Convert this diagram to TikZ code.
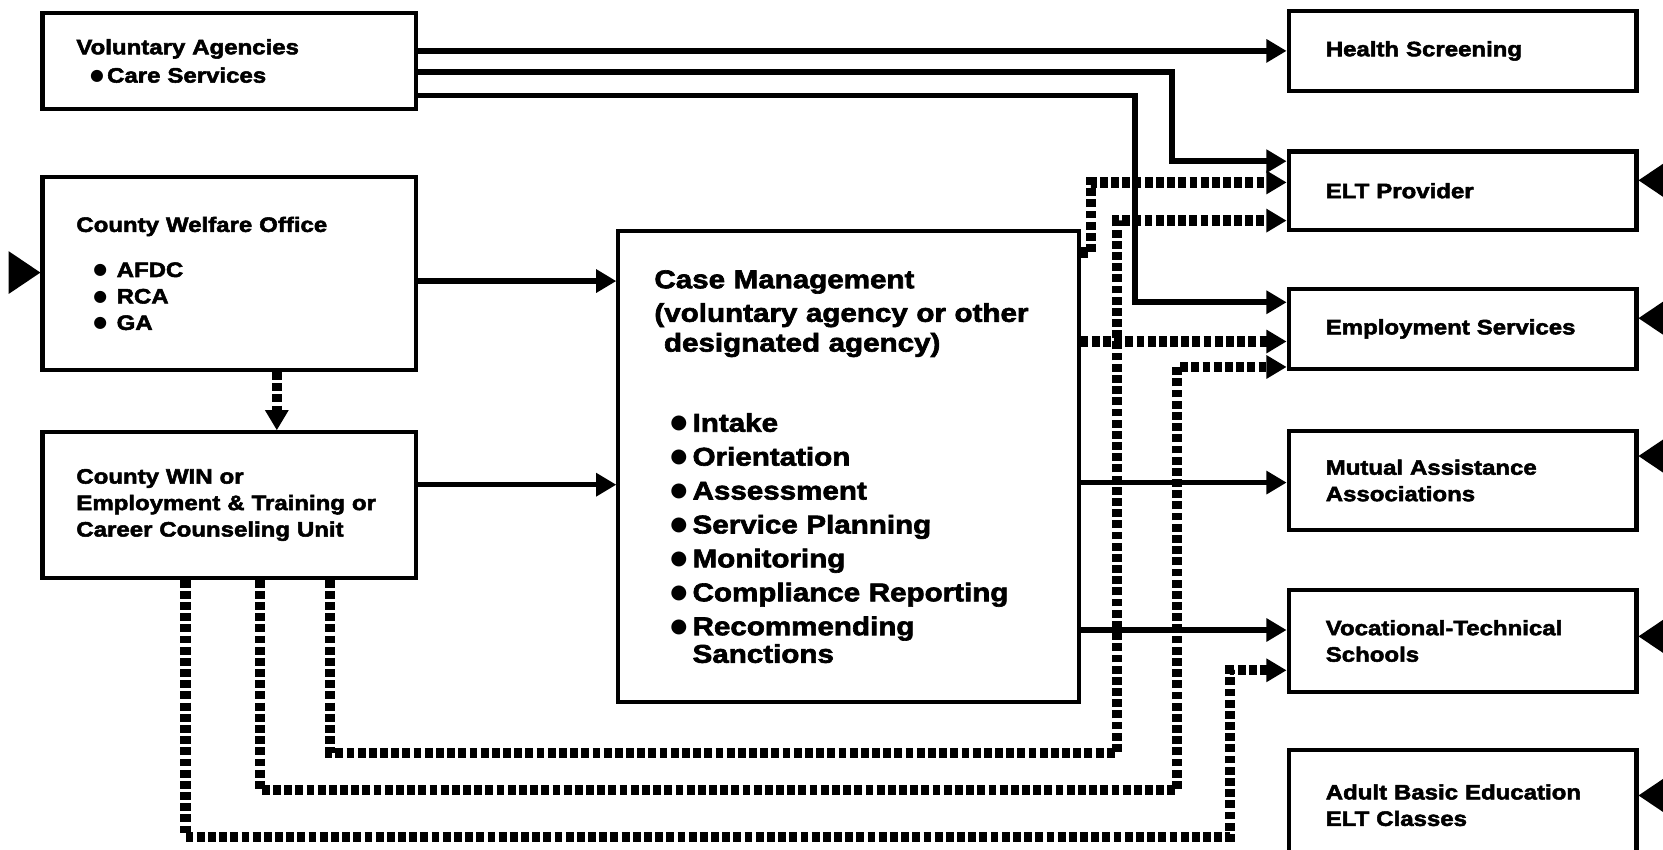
\documentclass[tikz,border=0pt]{standalone}
\usepackage{fontspec}
\setmainfont{Liberation Sans}[FakeStretch=1.15, BoldFeatures={FakeBold=2.5}]
\newfontfamily\dotfont{DejaVu Sans}
\usetikzlibrary{arrows.meta, positioning}
\newcommand{\dotitem}[1][0.44cm]{\makebox[#1][l]{\raisebox{0.1em}{\dotfont\fontsize{8.5}{8.5}\selectfont ●}}}
\newcommand{\bigdotitem}[1][0.42cm]{\makebox[#1][l]{\raisebox{0.12em}{\dotfont\fontsize{10.5}{10.5}\selectfont ●}}}

\begin{document}
\begin{tikzpicture}[
			x=0.02cm, y=-0.02cm,
			lbox/.style={rectangle, draw, line width=2.2pt, minimum width=7.04cm, text width=5.76cm, inner xsep=0.64cm, align=left, font={\fontsize{11.2}{14.2}\selectfont\bfseries}},
			rbox/.style={rectangle, draw, line width=2.2pt, minimum width=6.56cm, text width=5.16cm, inner xsep=0.7cm, align=left, font={\fontsize{11.2}{14.2}\selectfont\bfseries}},
			cbox/.style={rectangle, draw, line width=2.2pt, minimum width=8.68cm, minimum height=8.88cm, text width=7.32cm, inner xsep=0.68cm, align=left, font={\fontsize{13.8}{16}\selectfont\bfseries}},
			arrow/.style={-{Triangle[length=0.38cm, width=0.42cm]}, line width=3pt},
			dotarrow/.style={arrow, line width=5.5pt, dash pattern=on 4.2pt off 1.8pt},
			bigarrow/.style={-{Triangle[length=0.6cm, width=0.8cm]}, line width=1pt}
		]
		\useasboundingbox (0,0) rectangle (1568,801);
		\clip (0,0) rectangle (1568,801);
		
		% sources on the left
		\node[lbox, minimum height=1.82cm] (vol) at (216,57.5) {Voluntary Agencies\\[1pt] \hspace*{0.26cm}\dotitem[0.32cm]Care Services};
		\node[lbox, minimum height=3.64cm, below=1.2cm of vol] (welfare) {County Welfare Office\\[10pt]
			\hspace*{0.32cm}\dotitem AFDC\\ \hspace*{0.32cm}\dotitem RCA\\ \hspace*{0.32cm}\dotitem GA};
		\node[lbox, minimum height=2.74cm, below=1.1cm of welfare] (win) {County WIN or\\ Employment \& Training or\\ Career Counseling Unit};
		
		% case management
		\node[cbox] (case) at (800,440) {Case Management\\[2pt]
			(voluntary agency or other\\ \hspace*{0.18cm}designated agency)\\[27pt]
			\hspace*{0.3cm}\bigdotitem Intake\\[2.2pt]
			\hspace*{0.3cm}\bigdotitem Orientation\\[2.2pt]
			\hspace*{0.3cm}\bigdotitem Assessment\\[2.2pt]
			\hspace*{0.3cm}\bigdotitem Service Planning\\[2.2pt]
			\hspace*{0.3cm}\bigdotitem Monitoring\\[2.2pt]
			\hspace*{0.3cm}\bigdotitem Compliance Reporting\\[2.2pt]
			\hspace*{0.3cm}\bigdotitem Recommending\\[-1.2pt]
			\hspace*{0.72cm}Sanctions};
		
		% services on the right
		\node[rbox, minimum height=1.52cm] (health) at (1379,48) {Health Screening};
		\node[rbox, minimum height=1.48cm, below=1.06cm of health] (elt) {ELT Provider};
		\node[rbox, minimum height=1.5cm, below=1.04cm of elt] (emp) {Employment Services};
		\node[rbox, minimum height=1.86cm, below=1.1cm of emp] (mutual) {Mutual Assistance\\ Associations};
		\node[rbox, minimum height=1.92cm, below=1.06cm of mutual] (voc) {Vocational-Technical\\ Schools};
		\node[rbox, minimum height=2.08cm, below=1.02cm of voc] (adult) {Adult Basic Education\\ ELT Classes};
		
		% feeds from off the page
		\coordinate (feedWelfare) at (10,257);
		\coordinate (feedELT) at (1600,170);
		\coordinate (feedEmp) at (1600,300);
		\coordinate (feedMutual) at (1600,430);
		\coordinate (feedVoc) at (1600,600);
		\coordinate (feedAdult) at (1600,750);
		\draw[bigarrow] (feedWelfare) -- (welfare.west |- feedWelfare);
		\draw[bigarrow] (feedELT) -- (elt.east |- feedELT);
		\draw[bigarrow] (feedEmp) -- (emp.east |- feedEmp);
		\draw[bigarrow] (feedMutual) -- (mutual.east |- feedMutual);
		\draw[bigarrow] (feedVoc) -- (voc.east |- feedVoc);
		\draw[bigarrow] (feedAdult) -- (adult.east |- feedAdult);
		
		% solid links
		\draw[arrow] (vol.east |- health.west) -- (health.west);
		\draw[arrow] (vol.east |- 0,68) -| (1105,152) -- (elt.west |- 0,152);
		\draw[arrow] (vol.east |- 0,90) -| (1070,285) -- (emp.west |- 0,285);
		\draw[arrow] (welfare.east |- 0,265) -- (case.west |- 0,265);
		\draw[arrow] (win.east |- 0,457) -- (case.west |- 0,457);
		\draw[arrow] (case.east |- 0,455) -- (mutual.west |- 0,455);
		\draw[arrow] (case.east |- 0,594) -- (voc.west |- 0,594);
		
		% dotted links
		\draw[dotarrow] (welfare.south -| 261,0) -- (win.north -| 261,0);
		\draw[dotarrow] (case.east |- 0,238) -| (1029,172) -- (elt.west |- 0,172);
		\draw[dotarrow] (case.east |- 0,322) -- (emp.west |- 0,322);
		\draw[dotarrow] (win.south -| 311,0) |- (1053,710) -- (1053,208) -- (elt.west |- 0,208);
		\draw[dotarrow] (win.south -| 245,0) |- (1110,745) -- (1110,346) -- (emp.west |- 0,346);
		\draw[dotarrow] (win.south -| 175,0) |- (1160,789) -- (1160,632) -- (voc.west |- 0,632);
		\end{tikzpicture}
\end{document}
